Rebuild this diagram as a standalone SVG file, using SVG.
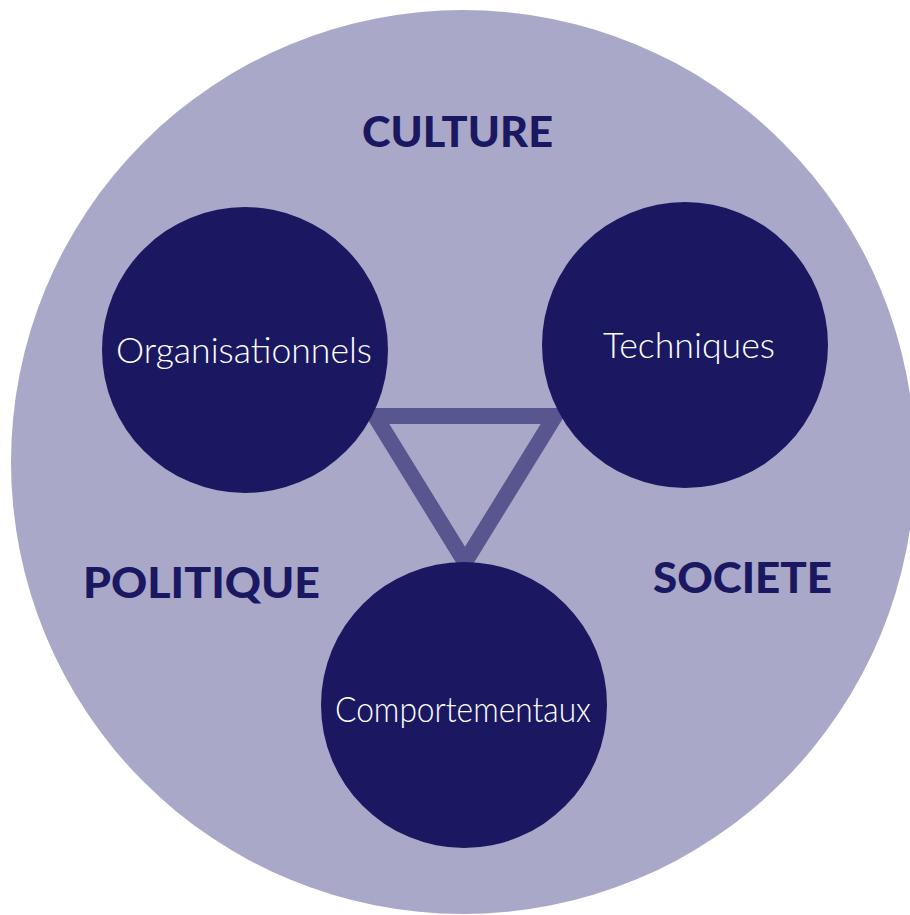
<svg xmlns="http://www.w3.org/2000/svg" width="910" height="915" viewBox="0 0 910 915">
  <style>
    .bg { fill: #AAA8C8; }
    .node { fill: #1B1862; }
    .link { fill: none; stroke: #58568F; stroke-width: 16; stroke-linejoin: miter; }
    .ctx { font-family: "Lato", "Liberation Sans", Arial, sans-serif; font-weight: 900; font-size: 42px; fill: #1B1862; }
    .lbl { font-family: "Lato", "Liberation Sans", Arial, sans-serif; font-weight: 300; font-size: 36px; fill: #FFFFFF; }
  </style>
  <rect x="0" y="0" width="910" height="915" fill="#FFFFFF"/>
  <circle class="bg" cx="463" cy="462" r="452"/>
  <text class="ctx" x="362" y="147" textLength="191" lengthAdjust="spacingAndGlyphs">CULTURE</text>
  <text class="ctx" x="83" y="598" textLength="237" lengthAdjust="spacingAndGlyphs">POLITIQUE</text>
  <text class="ctx" x="653" y="593" textLength="179" lengthAdjust="spacingAndGlyphs">SOCIETE</text>
  <g id="connectors">
    <polygon class="link" points="375,416 555,416 465,562"/>
  </g>
  <g id="organisationnels">
    <circle class="node" cx="245" cy="350" r="143"/>
    <text class="lbl" x="116" y="363" textLength="256" lengthAdjust="spacingAndGlyphs">Organisationnels</text>
  </g>
  <g id="techniques">
    <circle class="node" cx="685" cy="345" r="143"/>
    <text class="lbl" x="603" y="358" textLength="172" lengthAdjust="spacingAndGlyphs">Techniques</text>
  </g>
  <g id="comportementaux">
    <circle class="node" cx="464" cy="705" r="143"/>
    <text class="lbl" x="335" y="722" textLength="256" lengthAdjust="spacingAndGlyphs">Comportementaux</text>
  </g>
</svg>
